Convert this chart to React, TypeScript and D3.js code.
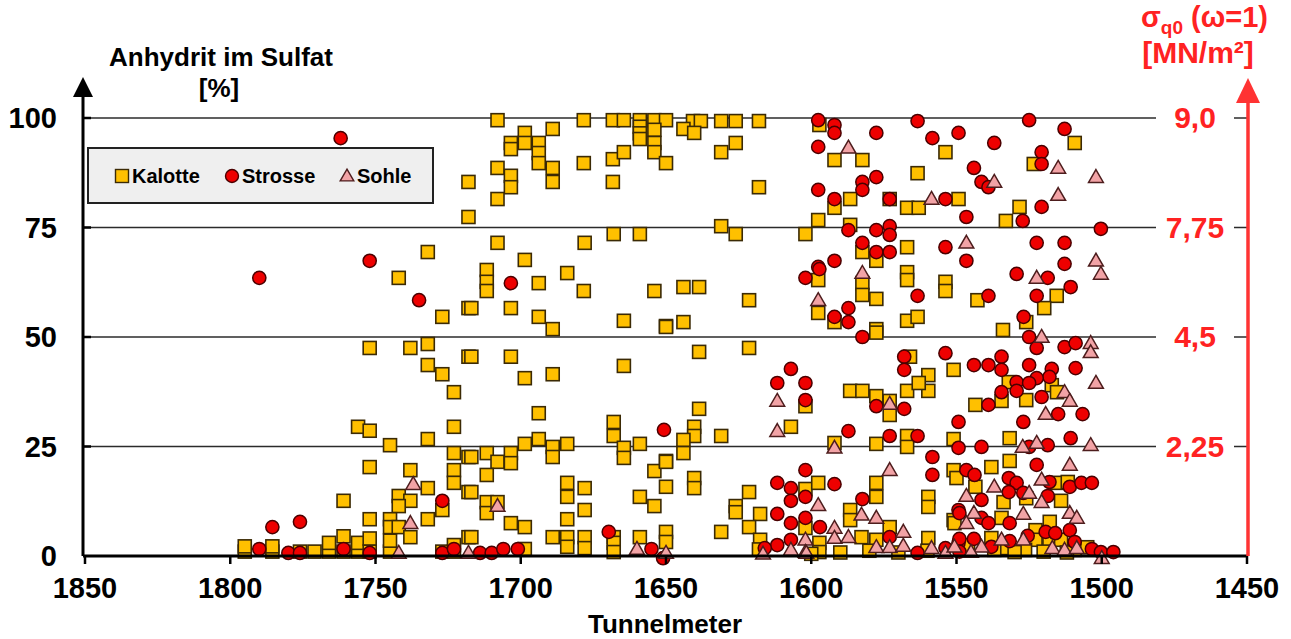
import * as d3 from 'd3'

const W = 1291
const H = 639
const FONT = '"Liberation Sans", Arial, Helvetica, sans-serif'

// Tunnelmeter / Anhydrit im Sulfat [%]
const kalotte: [number, number][] = [
  [1718, 85.4], [1718, 77.4], [1732, 69.4], [1742, 63.5], [1727, 54.6], [1718, 56.6],
  [1752, 47.5], [1738, 47.5], [1732, 48.4], [1718, 45.5], [1732, 43.6], [1727, 41.5], [1723, 37.4],
  [1756, 29.5], [1752, 28.6], [1745, 25.3], [1732, 26.7], [1723, 29.5],
  [1723, 23.5], [1718, 22.6], [1752, 20.3], [1738, 19.6], [1723, 19.6], [1723, 16.7], [1718, 14.6], [1732, 15.5],
  [1742, 13.7], [1738, 12.6], [1742, 11.4], [1761, 12.6], [1727, 10.5],
  [1752, 8.4], [1745, 8.4], [1745, 6.6], [1742, 6.6], [1732, 8.4], [1738, 4.3], [1718, 4.3],
  [1795, 1], [1795, 2.2], [1785.5, 1], [1785.5, 2.2], [1776, 1], [1771, 1], [1766, 1], [1766, 3],
  [1761, 1], [1761, 4.5], [1756, 1], [1756, 3], [1752, 1], [1752, 4], [1745, 1], [1745, 3.5],
  [1727, 1], [1723, 1], [1723, 2.5],
  [1708, 99.5], [1678.3, 99.5], [1668.3, 99.5], [1664.5, 99.5], [1659, 99.5], [1654, 99.5], [1650, 99.5],
  [1659, 98], [1659, 96.5], [1659, 95.2], [1654, 97.3], [1654, 94.3], [1654, 92.2],
  [1689, 97.5], [1698.6, 96.6], [1698.6, 94.3], [1703.4, 94.3], [1703.4, 92.9], [1693.8, 94.3], [1693.8, 92],
  [1693.8, 89.7], [1689, 88.6], [1689, 85.4], [1708, 88.6], [1703.4, 86.8], [1703.4, 84.2], [1708, 81.5],
  [1678.3, 89.7], [1668.3, 90.6], [1664.5, 92.2], [1668.3, 85.4], [1650, 89.7],
  [1708, 71.5], [1678, 71.5], [1668, 73.5], [1659, 73.5], [1698.6, 67.6], [1711.7, 65.3], [1711.7, 62.6],
  [1711.7, 60.5], [1693.8, 62.3], [1684, 64.6], [1678.3, 60.5], [1654, 60.5], [1717, 56.6], [1703.4, 56.6],
  [1693.8, 54.6], [1689, 51.8], [1664.5, 53.7], [1650, 52.5],
  [1717, 45.5], [1703.4, 45.5], [1698.6, 40.6], [1689, 41.5], [1664.5, 43.4], [1693.8, 32.6], [1668, 30.6], [1668, 27.4],
  [1698.6, 25.6], [1693.8, 26.7], [1689, 24.9], [1689, 22.6], [1684, 25.6], [1664.5, 24.7], [1664.5, 22.4],
  [1659, 25.6], [1711.7, 23.5], [1703.4, 23.5], [1708, 21.5], [1703.4, 21.2], [1717, 22.6], [1711.7, 18.5],
  [1654, 19.4], [1650, 21.7], [1650, 15.8],
  [1684, 16.7], [1684, 13.5], [1678, 15.5], [1678, 10.5], [1659, 13.5], [1654, 11.4], [1717, 14.6],
  [1711.7, 12.3], [1711.7, 9.8], [1708, 12.3], [1684, 8.4],
  [1703.4, 7.5], [1698.6, 6.6], [1717, 4.3], [1689, 4.3], [1684, 4.3], [1684, 2.1], [1678, 4.3], [1678, 1.8],
  [1668, 4.3], [1668, 3], [1668, 0.9], [1659, 4.3], [1650, 5.5], [1650, 3.2], [1698.6, 1.6],
  [1640.7, 99.3], [1638, 99.3], [1631, 99.3], [1626, 99.3], [1618, 99.3], [1644, 97.5], [1640.3, 96.6],
  [1626, 94.3], [1631, 92.2], [1618, 84.2], [1631, 75.3], [1626, 73.5], [1602, 73.5], [1644, 61.4],
  [1638.6, 61.4], [1621.4, 58.4], [1650, 52.3], [1644, 53.4], [1597.6, 76.7], [1597.6, 63], [1597.6, 55.5],
  [1638.6, 46.6], [1621.4, 47.5], [1602, 34.2], [1607, 29.5], [1638.6, 33.6], [1640.3, 29.5], [1640.3, 27.4],
  [1631, 27.4], [1644, 26.5], [1644, 23.5], [1650, 21.5], [1640.3, 17.8], [1640.3, 15.5], [1621.4, 14.6],
  [1626, 11.4], [1626, 10], [1617.6, 9.6], [1621.4, 6.6], [1631, 5.5], [1617.6, 3.7], [1602, 15.3],
  [1602, 6.4], [1597.6, 16.7], [1618, 1.5],
  [1597.2, 98.4], [1592, 90.4], [1582.4, 90.4], [1553.8, 92.2], [1563.4, 87.4], [1586.6, 81.5], [1592, 79.5],
  [1567, 79.5], [1563, 79.5], [1549.3, 81.5], [1586.6, 75.6], [1582.4, 69.4], [1577.6, 67.4], [1567, 70.5],
  [1567, 64.8], [1567, 63], [1553.8, 62.6], [1553.8, 60.5], [1582.4, 62.3], [1582.4, 59.6], [1577.6, 58.7],
  [1592, 53.4], [1567, 53.7], [1563.4, 54.6], [1577.6, 51.8], [1573, 81.5],
  [1577.6, 51], [1566, 45.5], [1586.6, 37.7], [1582.4, 37.7], [1577.6, 36.5], [1573, 35.4], [1573, 32.2],
  [1567, 37.7], [1592, 25.8], [1577.6, 25.6], [1597.2, 3], [1597.2, 0.9],
  [1551, 42.5], [1559.7, 41.3], [1559.7, 37.7], [1563, 39.5], [1567, 27.4], [1567, 24.9], [1551, 26.7],
  [1551, 19.6], [1550, 17.8], [1577.6, 16.7], [1577.6, 13.5], [1586.6, 10.5], [1586.6, 8.2], [1559.7, 13.5],
  [1559.7, 11.2], [1551, 8.2], [1582.7, 4.3], [1577.6, 3.7], [1573, 6.6], [1559.7, 4.1],
  [1509.3, 94.3], [1523.4, 89.5], [1528.3, 79.7], [1533, 76.5], [1542.8, 58.4], [1515.5, 59.4],
  [1519.8, 56.6], [1526, 53.4], [1534, 51.6],
  [1532, 39.7], [1517.2, 39], [1515.4, 37.4], [1543.5, 34.5], [1534.5, 35.4], [1526, 35.6], [1531.7, 26.9],
  [1538, 20.3], [1531.7, 21.7], [1543.5, 15.8], [1515.4, 16.7], [1511.7, 16.9], [1514, 12.6], [1533.8, 12.3],
  [1526, 13.2], [1534.5, 8.7], [1550.7, 7.5], [1538, 4.1], [1533, 1.8],
  [1517.9, 7.8], [1522.8, 5.9], [1522.8, 3.7], [1518, 3], [1514, 3.7], [1509.3, 1.4], [1526.4, 1.4],
  [1537, 1.4], [1530, 0.9], [1512, 0.8], [1505, 2], [1520, 1], [1546, 2.5], [1560, 1.2], [1590, 0.8],
  [1600, 0.5], [1580, 1.2], [1570, 0.8],
]

const strosse: [number, number][] = [
  [1762, 95.4], [1752, 67.4], [1790, 63.5], [1735, 58.4], [1727, 12.6], [1785.5, 6.6], [1776, 7.8],
  [1790, 1.6], [1780, 0.7], [1776, 0.7], [1761, 1.6], [1752, 0.7], [1727, 0.7], [1723, 1.6], [1714, 0.7],
  [1703.4, 62.3], [1650.7, 28.8], [1669.7, 5.5], [1710, 0.7], [1706, 1.6], [1701, 1.6], [1655, 1.6], [1651, -0.5],
  [1597.6, 99.5], [1597.6, 93.4], [1597.6, 83.6], [1597.6, 66], [1602, 63.5],
  [1607, 42.7], [1611.7, 39.5], [1602, 39.5], [1602, 35.6], [1611.7, 16.7], [1607, 15.5], [1602, 19.6],
  [1602, 13.5], [1607, 12.6], [1611.7, 9.6], [1607, 7.5], [1602, 8.7], [1607, 3.7], [1611.7, 2.5], [1616, 1.8],
  [1592, 98.4], [1592, 96.6], [1577.6, 96.6], [1563.4, 99.3], [1558.3, 95.4], [1549.3, 96.6], [1592, 81.5],
  [1582.4, 85.4], [1582.4, 83.6], [1577.6, 86.5], [1573, 81.5], [1553.8, 81.5], [1587.2, 74.4], [1577.6, 74.4],
  [1573, 75.3], [1573, 73.3], [1582.4, 71.5], [1577.6, 69.4], [1573, 69.4], [1592, 67.4], [1597.2, 65.5],
  [1553.8, 70.5], [1563.4, 59.4], [1587.2, 56.6], [1592, 54.6], [1587.2, 53.4], [1582.4, 50],
  [1568, 45.5], [1568, 42.5], [1577.6, 34.2], [1587.2, 28.5], [1592, 16.4], [1597, 6.6],
  [1553.8, 46.3], [1568, 33.6], [1573, 27.4], [1563.4, 27.4], [1549.3, 30.6], [1549.3, 24.7], [1558.3, 22.6],
  [1558.3, 18.5], [1582.4, 13], [1549.3, 10.5], [1573, 4.3], [1563.4, 0.7], [1553.8, 1.8], [1549.3, 3],
  [1525, 99.5], [1512.8, 97.5], [1537, 94.3], [1520.7, 92.2], [1520.7, 89.5], [1544, 88.6], [1541.4, 85.4],
  [1539, 84.2], [1546.6, 77.4], [1527.2, 76.5], [1520.7, 79.7], [1500.3, 74.7], [1546.6, 67.4], [1522.4, 71.5],
  [1512.8, 71.5], [1512.8, 66.7], [1529.3, 64.4], [1518.6, 63.5], [1510.7, 61.4], [1539, 59.4], [1522.4, 59.4],
  [1526.9, 54.6], [1525, 50],
  [1522.4, 47.5], [1512.8, 47.7], [1509, 48.6], [1544, 43.6], [1539, 43.6], [1534.5, 45.5], [1534.5, 42.5],
  [1525, 43.6], [1517.2, 42.7], [1509, 42.9], [1518, 40.9], [1522.4, 40.6], [1529.3, 39.7], [1525, 39.5],
  [1534.5, 37.4], [1529.3, 37.7], [1520.7, 36.3], [1539, 34.5], [1515, 32.4], [1506.6, 32.4], [1527, 30.6],
  [1510.7, 26.9], [1541.4, 24.9], [1525, 24.9], [1518.6, 25.3],
  [1546.6, 19.6], [1543.8, 18.5], [1532, 17.8], [1529.3, 16.7], [1518, 16.9], [1522.4, 20.8], [1518.6, 13.7],
  [1527, 14.4], [1541.4, 12.8], [1532, 14.6], [1511, 15.8], [1507, 16.7], [1503.4, 16.7], [1549, 9.8],
  [1541.4, 8.7], [1539, 7.5], [1531.7, 7.5], [1549, 3.9], [1544, 3.9], [1519.3, 5.5], [1511, 5.9], [1516, 5.2],
  [1525.5, 4.6], [1531.7, 3.4], [1538, 2.1], [1549, 1], [1509.3, 3.2], [1503.4, 1.6], [1500.3, 0.9], [1496, 0.9],
]

const sohle: [number, number][] = [
  [1737, 16.4], [1738, 7.5], [1742, 0.7], [1718, 0.7], [1708, 11.4], [1660, 1.6], [1650, 0.7],
  [1597.6, 58.4], [1611.7, 35.4], [1611.7, 28.5], [1602, 3.7], [1607, 1.4], [1602, 0.9], [1616.6, 0.5], [1597.6, 11.6],
  [1587.2, 93.2], [1582.4, 64.6], [1558.6, 81.5],
  [1573, 34.7], [1592, 24.7], [1601.7, 0.7], [1592, 6.4], [1592, 4.1],
  [1573, 19.6], [1582.7, 9.4], [1577.6, 8.7], [1587.2, 4.3], [1577.6, 2], [1573, 2], [1568.3, 5.5], [1568.3, 2.3],
  [1558.6, 1.8], [1553.8, 0.7],
  [1537, 85.4], [1515, 88.6], [1515, 82.4], [1502, 86.5], [1546.6, 71.5], [1522.4, 63.5], [1502, 67.4],
  [1500.3, 64.4], [1520.7, 50],
  [1503.8, 48.6], [1503.8, 46.5], [1502, 39.5], [1512.8, 37.4], [1511, 35.4], [1519.3, 32.4], [1527.2, 24.9],
  [1522.4, 25.8], [1503.8, 25.3],
  [1546.6, 13.7], [1537, 15.8], [1544, 9.8], [1546.6, 7.5], [1525, 14.4], [1520.7, 17.4], [1520.7, 12.3],
  [1511, 20.8], [1511, 9.8], [1508.6, 8.7], [1527, 9.6], [1534.5, 3.7], [1527, 3.7], [1541.4, 2.1], [1517, 1.8],
  [1512.8, 1.4], [1508.6, 1.8], [1500, -0.5], [1550.7, 2.1], [1545, 0.9],
]

const xTicks = [1850, 1800, 1750, 1700, 1650, 1600, 1550, 1500, 1450]
const yTicks = [0, 25, 50, 75, 100]
const rightLabels = ['', '2,25', '4,5', '7,75', '9,0']

const x = d3.scaleLinear().domain([1850, 1450]).range([85, 1247])
const y = d3.scaleLinear().domain([0, 100]).range([556, 118])

const SQ = 13
const R = 6.6
const triPath = d3.symbol(d3.symbolTriangle, 95)()

const axisX = 83
const rightX = 1248

export default function App() {
  return (
    <div style={{ position: 'absolute', left: 0, top: 0 }}>
      <svg width={W} height={H} style={{ display: 'block', background: '#fff' }} fontFamily={FONT}>
        {/* grid */}
        {yTicks.filter(t => t > 0).map(t => (
          <line key={'g' + t} x1={axisX} x2={rightX} y1={y(t)} y2={y(t)} stroke="#2b2b2b" strokeWidth={1.3} />
        ))}
        {yTicks.filter(t => t > 0).map(t => (
          <line key={'yt' + t} x1={axisX} x2={axisX + 8} y1={y(t)} y2={y(t)} stroke="#000" strokeWidth={2.5} />
        ))}

        {/* markers */}
        {kalotte.map(([m, v], i) => (
          <rect key={'k' + i} x={x(m) - SQ / 2} y={y(v) - SQ / 2} width={SQ} height={SQ}
            fill="#FFC000" stroke="#3b2a05" strokeWidth={1.6} />
        ))}
        {strosse.map(([m, v], i) => (
          <circle key={'s' + i} cx={x(m)} cy={y(v)} r={R} fill="#EE0000" stroke="#4a0000" strokeWidth={1.5} />
        ))}
        {sohle.map(([m, v], i) => (
          <path key={'t' + i} d={triPath ?? ''} transform={`translate(${x(m)},${y(v) + 1})`}
            fill="#F2A3A6" stroke="#4d1d1d" strokeWidth={1.5} />
        ))}

        {/* left axis */}
        <line x1={axisX} x2={axisX} y1={y(0)} y2={92} stroke="#000" strokeWidth={3} />
        <path d={`M${axisX},77 L${axisX - 10},97 L${axisX + 10},97 Z`} fill="#000" />
        {yTicks.map(t => (
          <text key={'yl' + t} x={57} y={y(t) + 10} textAnchor="end" fontSize={29} fontWeight="bold" fill="#000">
            {t}
          </text>
        ))}
        <text x={221} y={66} textAnchor="middle" fontSize={26} fontWeight="bold">Anhydrit im Sulfat</text>
        <text x={219} y={97} textAnchor="middle" fontSize={26} fontWeight="bold">[%]</text>

        {/* x axis */}
        <line x1={axisX} x2={rightX} y1={y(0)} y2={y(0)} stroke="#000" strokeWidth={3} />
        {xTicks.map(t => (
          <g key={'xt' + t}>
            <line x1={x(t)} x2={x(t)} y1={y(0)} y2={y(0) + 8} stroke="#000" strokeWidth={2.5} />
            <text x={x(t)} y={598} textAnchor="middle" fontSize={29} fontWeight="bold">{t}</text>
          </g>
        ))}
        <text x={665} y={633} textAnchor="middle" fontSize={26} fontWeight="bold">Tunnelmeter</text>

        {/* right axis */}
        {yTicks.map((t, i) => rightLabels[i] ? (
          <g key={'rl' + t}>
            <rect x={1156} y={y(t) - 14} width={78} height={28} fill="#fff" />
            <text x={1195} y={y(t) + 10} textAnchor="middle" fontSize={30} fontWeight="bold" fill="#F22">
              {rightLabels[i]}
            </text>
          </g>
        ) : null)}
        <line x1={rightX} x2={rightX} y1={y(0)} y2={96} stroke="#F33" strokeWidth={3.5} />
        <path d={`M${rightX},78 L${rightX - 12},103 L${rightX + 12},103 Z`} fill="#F33" />
        <text x={1141} y={27} fontSize={29} fontWeight="bold" fill="#F22">
          σ<tspan fontSize={19} dy={7}>q0</tspan><tspan dy={-7}> (ω=1)</tspan>
        </text>
        <text x={1198} y={63} textAnchor="middle" fontSize={30} fontWeight="bold" fill="#F22">[MN/m²]</text>

        {/* legend */}
        <rect x={88} y={148} width={345} height={55} fill="#EFEFEF" stroke="#222" strokeWidth={2} />
        <rect x={115.5} y={169.5} width={13} height={13} fill="#FFC000" stroke="#3b2a05" strokeWidth={1.4} />
        <text x={132} y={183} fontSize={20} fontWeight="bold">Kalotte</text>
        <circle cx={232} cy={176} r={6.5} fill="#EE0000" stroke="#4a0000" strokeWidth={1.4} />
        <text x={242} y={183} fontSize={20} fontWeight="bold">Strosse</text>
        <path d={d3.symbol(d3.symbolTriangle, 80)() ?? ''} transform="translate(347,177)"
          fill="#F2A3A6" stroke="#4d1d1d" strokeWidth={1.4} />
        <text x={357} y={183} fontSize={20} fontWeight="bold">Sohle</text>
      </svg>
    </div>
  )
}
